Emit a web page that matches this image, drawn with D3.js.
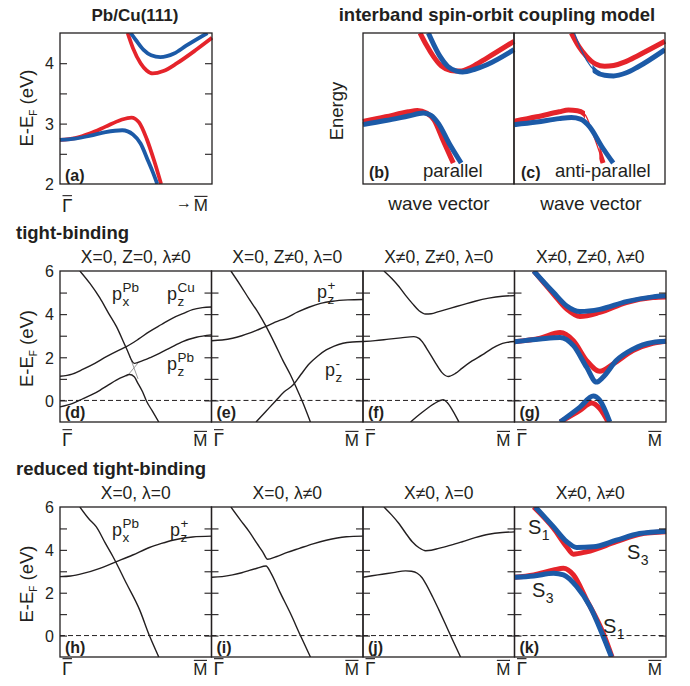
<!DOCTYPE html>
<html>
<head>
<meta charset="UTF-8"/>
<style>
  body { margin: 0; background: #fff; }
  text { font-family: "Liberation Sans", Arial, sans-serif; fill: #231f20; }
</style>
</head>
<body>
<svg width="690" height="686"></svg>
<script src="https://d3js.org/d3.v7.min.js"></script>
<script>
// ---- data: [k (0 = Gamma, 1 = M), energy] ----
// (a) Pb/Cu(111), E-EF in eV
const aRedLow = [[0,2.73],[0.1,2.76],[0.2,2.84],[0.3,2.95],[0.4,3.06],[0.47,3.1],[0.52,3.02],[0.57,2.75],[0.62,2.38],[0.665,2.0]];
const aBlueLow = [[0,2.73],[0.1,2.75],[0.2,2.8],[0.3,2.86],[0.41,2.89],[0.48,2.82],[0.53,2.67],[0.58,2.38],[0.61,2.2],[0.64,2.0]];
const aRedUp = [[0.445,4.5],[0.48,4.25],[0.53,4.0],[0.57,3.88],[0.61,3.83],[0.68,3.87],[0.77,4.0],[0.9,4.23],[1,4.42]];
const aBlueUp = [[0.465,4.5],[0.5,4.38],[0.55,4.22],[0.6,4.13],[0.66,4.1],[0.75,4.16],[0.83,4.29],[0.97,4.5]];
// (b) parallel, (c) anti-parallel: arbitrary units
const bRedLow = [[0,0.415],[0.15,0.445],[0.3,0.478],[0.36,0.486],[0.42,0.47],[0.47,0.425],[0.53,0.29],[0.598,0.139]];
const bBlueLow = [[0,0.393],[0.15,0.42],[0.3,0.45],[0.4,0.47],[0.45,0.455],[0.5,0.4],[0.57,0.27],[0.65,0.139]];
const bRedUp = [[0.378,1],[0.42,0.92],[0.466,0.845],[0.52,0.78],[0.58,0.752],[0.64,0.748],[0.72,0.775],[0.82,0.834],[1,0.945]];
const bBlueUp = [[0.433,1],[0.47,0.92],[0.51,0.845],[0.56,0.78],[0.62,0.748],[0.66,0.742],[0.74,0.76],[0.82,0.79],[1,0.89]];
const cRedLow = [[0,0.415],[0.15,0.445],[0.3,0.478],[0.36,0.49],[0.42,0.485],[0.47,0.46],[0.52,0.34],[0.59,0.139]];
const cBlueLow = [[0,0.393],[0.15,0.41],[0.3,0.433],[0.38,0.44],[0.44,0.43],[0.5,0.38],[0.58,0.25],[0.657,0.139]];
const cRedUp = [[0.38,1],[0.43,0.91],[0.48,0.845],[0.54,0.795],[0.6,0.78],[0.66,0.785],[0.74,0.81],[0.82,0.85],[1,0.945]];
const cBlueUp = [[0.4,1],[0.44,0.9],[0.48,0.82],[0.54,0.745],[0.6,0.72],[0.66,0.716],[0.74,0.735],[0.82,0.775],[1,0.89]];
// (d) X=0, Z=0, lambda!=0
const dCu = [[0,1.12],[0.08,1.22],[0.153,1.45],[0.23,1.72],[0.306,2.03],[0.38,2.3],[0.438,2.49],[0.52,2.85],[0.59,3.19],[0.67,3.52],[0.744,3.82],[0.82,4.05],[0.875,4.21],[0.94,4.3],[1,4.33]];
const dMid = [[0.131,6],[0.2,5.4],[0.263,4.75],[0.32,4.05],[0.372,3.43],[0.438,2.42],[0.49,1.72],[0.525,1.79],[0.6,2.0],[0.656,2.18],[0.73,2.45],[0.81,2.73],[0.9,2.93],[1,3.04]];
const dLow = [[0,-0.3],[0.08,-0.15],[0.153,0.08],[0.22,0.3],[0.263,0.47],[0.32,0.72],[0.372,0.94],[0.42,1.1],[0.46,1.2],[0.49,1.1],[0.51,0.85],[0.545,0.4],[0.569,0],[0.61,-0.5],[0.652,-1]];
const dGray1 = [[0.46,2.05],[0.515,1.0]];
const dGray2 = [[0.44,1.1],[0.525,1.82]];
// (e) X=0, Z!=0, lambda=0
const ePx = [[0.128,6],[0.19,5.35],[0.25,4.68],[0.31,4.05],[0.36,3.43],[0.42,2.6],[0.47,1.87],[0.52,1.2],[0.558,0.62],[0.6,-0.05],[0.653,-1]];
const ePzPlus = [[0,2.77],[0.07,2.8],[0.139,2.88],[0.2,3.0],[0.25,3.12],[0.3,3.26],[0.36,3.43],[0.42,3.63],[0.49,3.82],[0.57,4.1],[0.647,4.33],[0.72,4.5],[0.8,4.6],[0.9,4.66],[1,4.68]];
const ePzMinus = [[0.294,-1],[0.36,-0.5],[0.426,0],[0.48,0.4],[0.536,0.7],[0.59,1.2],[0.647,1.71],[0.7,2.05],[0.757,2.34],[0.81,2.52],[0.868,2.65],[0.93,2.71],[1,2.73]];
// (f) X!=0, Z!=0, lambda=0
const fUp = [[0.138,6],[0.19,5.65],[0.237,5.28],[0.28,4.88],[0.325,4.5],[0.37,4.16],[0.413,4.01],[0.45,4.02],[0.5,4.12],[0.58,4.28],[0.655,4.43],[0.74,4.6],[0.83,4.74],[0.92,4.83],[1,4.86]];
const fMid = [[0,2.73],[0.08,2.77],[0.17,2.84],[0.25,2.9],[0.336,2.96],[0.37,2.88],[0.39,2.73],[0.43,2.3],[0.479,1.73],[0.52,1.3],[0.563,1.11],[0.61,1.25],[0.655,1.5],[0.72,1.83],[0.787,2.11],[0.85,2.4],[0.897,2.58],[0.95,2.69],[1,2.73]];
const fLow = [[0.314,-1],[0.36,-0.72],[0.413,-0.43],[0.47,-0.15],[0.53,0.03],[0.556,-0.1],[0.59,-0.45],[0.633,-1]];
// (g) X!=0, Z!=0, lambda!=0
const gRedUp = [[0.127,6],[0.258,4.92],[0.345,4.23],[0.432,3.89],[0.563,4.08],[0.738,4.54],[0.913,4.77],[1,4.8]];
const gBlueUp = [[0.127,6],[0.258,5.0],[0.345,4.38],[0.432,4.12],[0.563,4.22],[0.738,4.58],[0.913,4.8],[1,4.85]];
const gRedMid = [[0,2.72],[0.17,2.89],[0.301,3.15],[0.389,2.77],[0.476,1.85],[0.563,1.35],[0.651,1.69],[0.782,2.31],[0.913,2.65],[1,2.74]];
const gBlueMid = [[0,2.72],[0.17,2.85],[0.301,2.92],[0.389,2.54],[0.476,1.54],[0.541,0.85],[0.585,1.08],[0.672,1.85],[0.782,2.38],[0.913,2.69],[1,2.74]];
const gRedLow = [[0.301,-1],[0.432,-0.46],[0.509,-0.12],[0.563,-0.38],[0.618,-1]];
const gBlueLow = [[0.301,-1],[0.432,-0.31],[0.52,0.2],[0.563,0],[0.629,-1]];
// (h) X=0, lambda=0
const hPx = [[0.131,6],[0.19,5.45],[0.24,5.07],[0.3,4.3],[0.35,3.68],[0.438,2.44],[0.525,1.21],[0.59,0],[0.652,-1]];
const hPz = [[0,2.75],[0.07,2.78],[0.153,2.9],[0.263,3.14],[0.372,3.45],[0.48,3.76],[0.59,4.11],[0.67,4.3],[0.744,4.45],[0.875,4.6],[1,4.64]];
// (i) X=0, lambda!=0
const iUp = [[0.128,6],[0.19,5.4],[0.25,4.84],[0.3,4.3],[0.338,3.91],[0.37,3.56],[0.426,3.68],[0.5,3.88],[0.58,4.07],[0.67,4.28],[0.757,4.45],[0.89,4.61],[1,4.64]];
const iLow = [[0,2.72],[0.07,2.75],[0.139,2.83],[0.2,2.93],[0.25,3.04],[0.3,3.14],[0.36,3.25],[0.39,2.95],[0.45,2.05],[0.52,1.05],[0.587,0],[0.653,-1]];
// (j) X!=0, lambda=0
const jUp = [[0.138,6],[0.19,5.62],[0.237,5.23],[0.28,4.8],[0.325,4.38],[0.37,4.1],[0.413,3.96],[0.45,3.98],[0.5,4.07],[0.58,4.22],[0.655,4.38],[0.74,4.57],[0.83,4.73],[0.92,4.81],[1,4.84]];
const jLow = [[0,2.72],[0.06,2.79],[0.127,2.86],[0.2,2.94],[0.281,3.02],[0.32,3.0],[0.358,2.91],[0.39,2.7],[0.413,2.44],[0.46,1.8],[0.5,1.21],[0.54,0.6],[0.578,0],[0.644,-1]];
// (k) X!=0, lambda!=0
const kRedUp = [[0.127,6],[0.258,5.0],[0.345,4.14],[0.389,3.8],[0.476,3.91],[0.672,4.38],[0.825,4.73],[1,4.84]];
const kBlueUp = [[0.138,6],[0.258,5.07],[0.345,4.38],[0.41,4.11],[0.52,4.14],[0.672,4.45],[0.825,4.76],[1,4.87]];
const kRedLow = [[0,2.72],[0.127,2.83],[0.258,3.06],[0.323,3.14],[0.389,2.83],[0.476,1.67],[0.585,0.12],[0.644,-1]];
const kBlueLow = [[0,2.72],[0.127,2.78],[0.258,2.91],[0.323,2.83],[0.41,2.29],[0.498,1.36],[0.585,-0.03],[0.64,-1]];

const ticksTB = [0, 1, 2, 3, 4, 5];
const labelsTB = [0, 2, 4, 6];
const ticksA = [2.5, 3, 3.5, 4];
const labelsA = [2, 3, 4];

// ---- drawing ----
let svg = d3.select("svg");
const red = "#e5242b", blue = "#1c5aa7", ink = "#231f20";
let clipCount = 0;

function clipRect(x, y, w, h) {
    let id = "clip" + (clipCount++);
    svg.append("clipPath").attr("id", id).append("rect")
        .attr("x", x).attr("y", y).attr("width", w).attr("height", h);
    return "url(#" + id + ")";
}

function panel(x0, x1, y0, y1, yDom) {
    let x = d3.scaleLinear().domain([0, 1]).range([x0, x1]);
    let y = d3.scaleLinear().domain(yDom).range([y1, y0]);
    let g = svg.append("g");
    let curves = g.append("g").attr("clip-path", clipRect(x0 - 4, y0, x1 - x0 + 8, y1 - y0));
    return {x, y, g, curves, x0, x1, y0, y1};
}

function curve(p, data, color, w, kFrom, kTo) {
    let line = d3.line()
        .x(d => p.x(d[0]))
        .y(d => p.y(d[1]))
        .curve(d3.curveMonotoneX);
    let host = p.curves;
    if (kFrom !== undefined) {
        host = p.curves.append("g").attr("clip-path",
            clipRect(p.x(kFrom), p.y0 - 10, p.x(kTo) - p.x(kFrom), p.y1 - p.y0 + 20));
    }
    host.append("path").datum(data).attr("d", line)
        .attr("fill", "none").attr("stroke", color).attr("stroke-width", w)
        .attr("stroke-linejoin", "round");
}

function frame(p) {
    p.g.append("rect").attr("x", p.x0).attr("y", p.y0)
        .attr("width", p.x1 - p.x0).attr("height", p.y1 - p.y0)
        .attr("fill", "none").attr("stroke", ink).attr("stroke-width", 1.3);
}

function ticks(p, vals) {
    p.g.append("g").attr("transform", `translate(${p.x0},0)`).attr("color", ink)
        .call(d3.axisRight(p.y).tickValues(vals).tickSize(7).tickFormat(""))
        .call(s => s.select(".domain").remove())
        .selectAll("line").attr("stroke-width", 1.1);
    p.g.append("g").attr("transform", `translate(${p.x1},0)`).attr("color", ink)
        .call(d3.axisLeft(p.y).tickValues(vals).tickSize(7).tickFormat(""))
        .call(s => s.select(".domain").remove())
        .selectAll("line").attr("stroke-width", 1.1);
}

function tickLabels(p, vals) {
    let a = p.g.append("g").attr("transform", `translate(${p.x0},0)`)
        .call(d3.axisLeft(p.y).tickValues(vals).tickSize(0).tickPadding(6).tickFormat(d3.format("d")))
        .call(s => s.select(".domain").remove());
    a.selectAll("text").attr("font-size", 16).attr("font-family", "Liberation Sans, Arial, sans-serif")
        .style("fill", ink).attr("dy", "0.36em");
}

function zeroLine(p) {
    p.g.append("line").attr("x1", p.x0).attr("x2", p.x1)
        .attr("y1", p.y(0)).attr("y2", p.y(0))
        .attr("stroke", ink).attr("stroke-width", 1).attr("stroke-dasharray", "5,3");
}

function txt(x, y, s, size, opts) {
    opts = opts || {};
    let t = svg.append("text").attr("x", x).attr("y", y).text(s)
        .attr("font-size", size)
        .attr("text-anchor", opts.anchor || "start")
        .attr("font-weight", opts.bold ? "bold" : "normal");
    if (opts.family) t.attr("font-family", opts.family);
    return t;
}

function overlined(x, y, s, size, anchor, family) {
    let t = txt(x, y, s, size, {anchor: anchor, family: family});
    let bb = t.node().getBBox();
    svg.append("line").attr("x1", bb.x + 0.5).attr("x2", bb.x + bb.width - 0.5)
        .attr("y1", y - size * 0.86).attr("y2", y - size * 0.86)
        .attr("stroke", ink).attr("stroke-width", 1.1);
}

function gammaM(p, base) {
    overlined(p.x0 + 2, base, "\u0393", 19, "start", "Liberation Serif, Times New Roman, serif");
    overlined(p.x1 - 4, base, "M", 17, "end");
}

function orbital(x, y, base, sub, sup, size, small) {
    let t = txt(x, y, base, size);
    let w = t.node().getComputedTextLength();
    if (sup) txt(x + w + 0.5, y - size * 0.44, sup, small);
    if (sub) txt(x + w + 0.5, y + size * 0.32, sub, small);
}

function yTitle(x, cy) {
    let t = svg.append("text").attr("transform", `translate(${x},${cy}) rotate(-90)`)
        .attr("text-anchor", "middle").attr("font-size", 18.5);
    t.append("tspan").text("E-E");
    t.append("tspan").text("F").attr("font-size", 10).attr("dy", 4);
    t.append("tspan").text(" (eV)").attr("dy", -4);
}

// ---- row 1 ----
txt(135, 21, "Pb/Cu(111)", 17, {anchor: "middle", bold: true});
txt(497, 21, "interband spin-orbit coupling model", 18.5, {anchor: "middle", bold: true});

let pa = panel(60, 212, 33, 184, [2, 4.5]);
curve(pa, aRedLow, red, 3.8);
curve(pa, aBlueLow, blue, 3.8);
curve(pa, aRedUp, red, 3.8);
curve(pa, aBlueUp, blue, 3.8);
ticks(pa, ticksA);
frame(pa);
tickLabels(pa, labelsA);
yTitle(33, 108);
txt(65, 181, "(a)", 16, {bold: true});
overlined(62, 212, "\u0393", 19, "start", "Liberation Serif, Times New Roman, serif");
overlined(208, 211, "M", 17, "end");
txt(192, 208, "\u2192", 16, {anchor: "end"});

let pb = panel(363, 514, 33, 184, [0, 1]);
curve(pb, bRedLow, red, 5);
curve(pb, bBlueLow, blue, 5);
curve(pb, bRedUp, red, 5);
curve(pb, bBlueUp, blue, 5);
frame(pb);
let pc = panel(514, 665, 33, 184, [0, 1]);
curve(pc, cRedLow, red, 1.2);
curve(pc, cRedLow, red, 5, 0, 0.47);
curve(pc, cRedLow, red, 5, 0.565, 1);
curve(pc, cBlueLow, blue, 5);
curve(pc, cRedUp, red, 5);
curve(pc, cBlueUp, blue, 1.2);
curve(pc, cBlueUp, blue, 5, 0.52, 1);
frame(pc);
svg.append("text").attr("transform", "translate(343,111) rotate(-90)")
    .attr("text-anchor", "middle").attr("font-size", 18.5).text("Energy");
txt(369, 178, "(b)", 16, {bold: true});
txt(423, 177, "parallel", 18.5);
txt(521, 178, "(c)", 16, {bold: true});
txt(555, 177, "anti-parallel", 18.5);
txt(439, 210, "wave vector", 19, {anchor: "middle"});
txt(591, 210, "wave vector", 19, {anchor: "middle"});

// ---- rows 2 and 3 ----
const colX = [60, 211.5, 363, 514.5, 666];
const row2 = [271, 422], row3 = [507, 657];

txt(16, 239, "tight-binding", 18.5, {bold: true});
txt(16, 475, "reduced tight-binding", 18.5, {bold: true});

const titles2 = ["X=0, Z=0, \u03bb\u22600", "X=0, Z\u22600, \u03bb=0", "X\u22600, Z\u22600, \u03bb=0", "X\u22600, Z\u22600, \u03bb\u22600"];
const titles3 = ["X=0, \u03bb=0", "X=0, \u03bb\u22600", "X\u22600, \u03bb=0", "X\u22600, \u03bb\u22600"];
const letters2 = ["(d)", "(e)", "(f)", "(g)"];
const letters3 = ["(h)", "(i)", "(j)", "(k)"];

function row(r, titles, letters, baseM) {
    let ps = [];
    for (let i = 0; i < 4; i++) {
        let p = panel(colX[i], colX[i + 1], r[0], r[1], [-1, 6]);
        zeroLine(p);
        ticks(p, ticksTB);
        ps.push(p);
        txt((colX[i] + colX[i + 1]) / 2, r[0] - 8, titles[i], 17.5, {anchor: "middle"});
        txt(colX[i] + 5, r[1] - 4, letters[i], 16, {bold: true});
        gammaM(p, baseM);
    }
    tickLabels(ps[0], labelsTB);
    yTitle(33, (r[0] + r[1]) / 2 + 2);
    return ps;
}

let [pd, pe, pf, pg] = row(row2, titles2, letters2, 446);
curve(pd, dGray1, "#9a9a9a", 1);
curve(pd, dGray2, "#9a9a9a", 1);
curve(pd, dCu, ink, 1.4);
curve(pd, dMid, ink, 1.4);
curve(pd, dLow, ink, 1.4);
curve(pe, ePx, ink, 1.4);
curve(pe, ePzPlus, ink, 1.4);
curve(pe, ePzMinus, ink, 1.4);
curve(pf, fUp, ink, 1.4);
curve(pf, fMid, ink, 1.4);
curve(pf, fLow, ink, 1.4);
curve(pg, gRedUp, red, 5);
curve(pg, gBlueUp, blue, 5);
curve(pg, gRedMid, red, 5);
curve(pg, gBlueMid, blue, 5);
curve(pg, gRedLow, red, 5);
curve(pg, gBlueLow, blue, 5);
[pd, pe, pf, pg].forEach(frame);

orbital(112, 300, "p", "x", "Pb", 18, 13.5);
orbital(167, 300, "p", "z", "Cu", 18, 13.5);
orbital(167, 370, "p", "z", "Pb", 18, 13.5);
orbital(317, 298, "p", "z", "+", 18, 13.5);
orbital(325, 376, "p", "z", "-", 18, 13.5);

let [ph, pi, pj, pk] = row(row3, titles3, letters3, 675);
curve(ph, hPx, ink, 1.4);
curve(ph, hPz, ink, 1.4);
curve(pi, iUp, ink, 1.4);
curve(pi, iLow, ink, 1.4);
curve(pj, jUp, ink, 1.4);
curve(pj, jLow, ink, 1.4);
curve(pk, kRedUp, red, 5);
curve(pk, kBlueUp, blue, 5);
curve(pk, kRedLow, red, 5);
curve(pk, kBlueLow, blue, 5);
[ph, pi, pj, pk].forEach(frame);

orbital(112, 536, "p", "x", "Pb", 18, 13.5);
orbital(170, 536, "p", "z", "+", 18, 13.5);
orbital(528, 534, "S", "1", null, 20, 14);
orbital(627, 559, "S", "3", null, 20, 14);
orbital(532, 597, "S", "3", null, 20, 14);
orbital(603, 633, "S", "1", null, 20, 14);
</script>
</body>
</html>
